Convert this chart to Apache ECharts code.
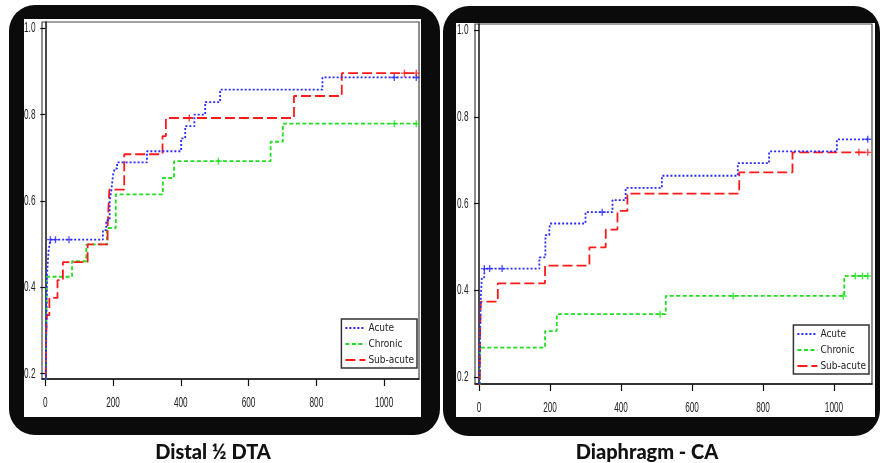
<!DOCTYPE html>
<html><head><meta charset="utf-8">
<script src="https://cdn.jsdelivr.net/npm/echarts@6/dist/echarts.min.js"></script>
<style>html,body{margin:0;padding:0;background:#fff}#c{width:880px;height:463px}</style>
</head><body><div id="c"></div>
<script>
// Panel titles
const titles = ['Distal \u00BD DTA', 'Diaphragm - CA'];
const seriesNames = ['Acute', 'Chronic', 'Sub-acute'];
const xTicks = [0, 200, 400, 600, 800, 1000];
const yTicks = [0.2, 0.4, 0.6, 0.8, 1.0];

// Left panel: Distal 1/2 DTA  (event time, cumulative value after event)
const acuteL_t = [0, 2, 5, 10, 15, 170, 180, 190, 195, 200, 205, 212, 300, 401, 413, 440, 472, 516, 818, 1100];
const acuteL_v = [0, 0.25, 0.43, 0.487, 0.51, 0.532, 0.555, 0.60, 0.625, 0.66, 0.675, 0.689, 0.715, 0.745, 0.773, 0.80, 0.829, 0.858, 0.886, 0.886];
const chronicL_t = [0, 3, 5, 79, 121, 182, 208, 347, 380, 665, 701, 1100];
const chronicL_v = [0, 0.30, 0.424, 0.46, 0.499, 0.537, 0.615, 0.653, 0.692, 0.737, 0.779, 0.779];
const subL_t = [0, 2, 5, 12, 36, 52, 125, 184, 189, 233, 346, 356, 734, 875, 1100];
const subL_v = [0, 0.28, 0.335, 0.375, 0.416, 0.458, 0.499, 0.541, 0.626, 0.708, 0.75, 0.792, 0.843, 0.896, 0.896];

// Right panel: Diaphragm - CA
const acuteR_t = [0, 3, 5, 8, 15, 170, 187, 198, 200, 300, 376, 413, 515, 729, 817, 1008, 1100];
const acuteR_v = [0, 0.30, 0.385, 0.43, 0.45, 0.476, 0.527, 0.54, 0.554, 0.58, 0.608, 0.636, 0.664, 0.693, 0.72, 0.748, 0.748];
const chronicR_t = [0, 3, 186, 219, 526, 1029, 1100];
const chronicR_v = [0, 0.268, 0.306, 0.345, 0.387, 0.433, 0.433];
const subR_t = [0, 3, 5, 53, 186, 311, 357, 390, 418, 733, 883, 1100];
const subR_v = [0, 0.30, 0.374, 0.416, 0.457, 0.499, 0.54, 0.583, 0.623, 0.672, 0.718, 0.718];

// Censor marks (+)
const censorL = {
  'Acute': [[15, 0.51], [30, 0.51], [70, 0.51], [1030, 0.886], [1095, 0.886]],
  'Chronic': [[511, 0.692], [1030, 0.779], [1095, 0.779]],
  'Sub-acute': [[425, 0.792], [1060, 0.896], [1095, 0.896]]
};
const censorR = {
  'Acute': [[15, 0.45], [30, 0.45], [65, 0.45], [347, 0.58], [1095, 0.748]],
  'Chronic': [[510, 0.345], [716, 0.387], [1026, 0.387], [1060, 0.433], [1080, 0.433], [1095, 0.433]],
  'Sub-acute': [[1070, 0.718], [1095, 0.718]]
};

const colors = {'Acute': '#2a2aff', 'Chronic': '#22dd22', 'Sub-acute': '#ff1a1a'};
const dashes = {'Acute': [2, 2], 'Chronic': [4, 2.5], 'Sub-acute': [10, 4]};
const zip = (t, v) => t.map((x, i) => [x, v[i]]);
const plus = 'path://M4,0h2v4h4v2h-4v4h-2v-4h-4v-2h4z';
const legendFont = "'DejaVu Sans Condensed','Liberation Sans',sans-serif";

const panels = [
  {data: {'Acute': zip(acuteL_t, acuteL_v), 'Chronic': zip(chronicL_t, chronicL_v), 'Sub-acute': zip(subL_t, subL_v)}, censor: censorL},
  {data: {'Acute': zip(acuteR_t, acuteR_v), 'Chronic': zip(chronicR_t, chronicR_v), 'Sub-acute': zip(subR_t, subR_v)}, censor: censorR}
];

const grids = [
  {left: 42, top: 22, right: 461, bottom: 84},
  {left: 475, top: 24, right: 8, bottom: 79}
];
const xRanges = [[-9.7, 1103], [-11.3, 1107]];
const yRanges = [[0.187, 1.0146], [0.184, 1.0138]];

const xAxis = [], yAxis = [], series = [];
[0, 1].forEach(p => {
  xAxis.push({
    type: 'value', gridIndex: p, min: xRanges[p][0], max: xRanges[p][1],
    splitLine: {show: false},
    axisLine: {lineStyle: {color: '#111', width: 1.5}},
    axisTick: {length: 7, lineStyle: {color: '#111', width: 1.2}, customValues: xTicks},
    axisLabel: {show: false, customValues: xTicks}
  });
  yAxis.push({
    type: 'value', gridIndex: p, min: yRanges[p][0], max: yRanges[p][1],
    splitLine: {show: false},
    axisLine: {lineStyle: {color: '#111', width: 1.5}},
    axisTick: {length: 5, lineStyle: {color: '#111', width: 1.2}, customValues: yTicks},
    axisLabel: {show: false, customValues: yTicks}
  });
  seriesNames.forEach(n => {
    series.push({
      name: n, type: 'line', xAxisIndex: p, yAxisIndex: p, step: 'end',
      data: panels[p].data[n], symbol: 'none', clip: true,
      lineStyle: {color: colors[n], width: 1.8, type: dashes[n]},
      itemStyle: {color: colors[n]}, z: n === 'Acute' ? 4 : 3
    });
    series.push({
      name: n + ' censored', type: 'scatter', xAxisIndex: p, yAxisIndex: p,
      data: panels[p].censor[n], symbol: plus, symbolSize: 7,
      itemStyle: {color: colors[n], opacity: 0.8}, silent: true, z: 5
    });
  });
});

const legendBase = {
  orient: 'vertical', data: seriesNames, backgroundColor: '#fff',
  borderColor: '#333', borderWidth: 1.5, padding: [4, 3, 3, 3],
  itemWidth: 20, itemHeight: 8, itemGap: 6, selectedMode: false,
  itemStyle: {opacity: 0},
  textStyle: {fontSize: 10, color: '#222', fontFamily: legendFont, padding: [0, 0, 0, -2]}
};

const baseGraphic = [
  {id: 'bgL', type: 'rect', z: -10, silent: true, shape: {x: 9, y: 5, width: 431, height: 430, r: 26}, style: {fill: '#0b0b0b'}},
  {id: 'wL', type: 'rect', z: -9, silent: true, shape: {x: 24, y: 19, width: 397, height: 398}, style: {fill: '#fff'}},
  {id: 'bgR', type: 'rect', z: -10, silent: true, shape: {x: 443, y: 6, width: 437, height: 430, r: 26}, style: {fill: '#0b0b0b'}},
  {id: 'wR', type: 'rect', z: -9, silent: true, shape: {x: 456, y: 23, width: 419, height: 394}, style: {fill: '#fff'}}
];

const chart = echarts.init(document.getElementById('c'), null, {renderer: 'canvas'});
chart.setOption({
  animation: false,
  backgroundColor: '#fff',
  graphic: baseGraphic,
  title: [
    {text: titles[0], left: 208, top: 438, textAlign: 'center', textStyle: {fontFamily: 'Lato', fontWeight: 900, fontSize: 20, color: '#111'}},
    {text: titles[1], left: 642, top: 438, textAlign: 'center', textStyle: {fontFamily: 'Lato', fontWeight: 900, fontSize: 20, color: '#111'}}
  ],
  grid: grids.map(g => Object.assign({show: true, borderColor: '#444', borderWidth: 1.2, backgroundColor: 'transparent'}, g)),
  legend: [
    Object.assign({}, legendBase, {right: 463, top: 319}),
    Object.assign({}, legendBase, {right: 11, top: 325})
  ],
  xAxis, yAxis, series
});

// Condensed tick labels, positioned through the axes' own scales
const labelFont = "15px 'Liberation Sans', Arial, sans-serif";
const tickLabels = [];
[0, 1].forEach(p => {
  const fin = {xAxisIndex: p, yAxisIndex: p};
  xTicks.forEach(v => {
    const pt = chart.convertToPixel(fin, [v, yRanges[p][0]]);
    tickLabels.push({type: 'text', silent: true, x: pt[0], y: pt[1] + 23.5, scaleX: 0.55,
      style: {text: String(v), font: labelFont, fill: '#222', align: 'center', verticalAlign: 'middle'}});
  });
  yTicks.forEach(v => {
    const pt = chart.convertToPixel(fin, [xRanges[p][0], v]);
    tickLabels.push({type: 'text', silent: true, x: pt[0] - 6.5, y: pt[1], scaleX: 0.55,
      style: {text: v.toFixed(1), font: labelFont, fill: '#222', align: 'right', verticalAlign: 'middle'}});
  });
});
chart.setOption({graphic: baseGraphic.concat(tickLabels)});
</script></body></html>
